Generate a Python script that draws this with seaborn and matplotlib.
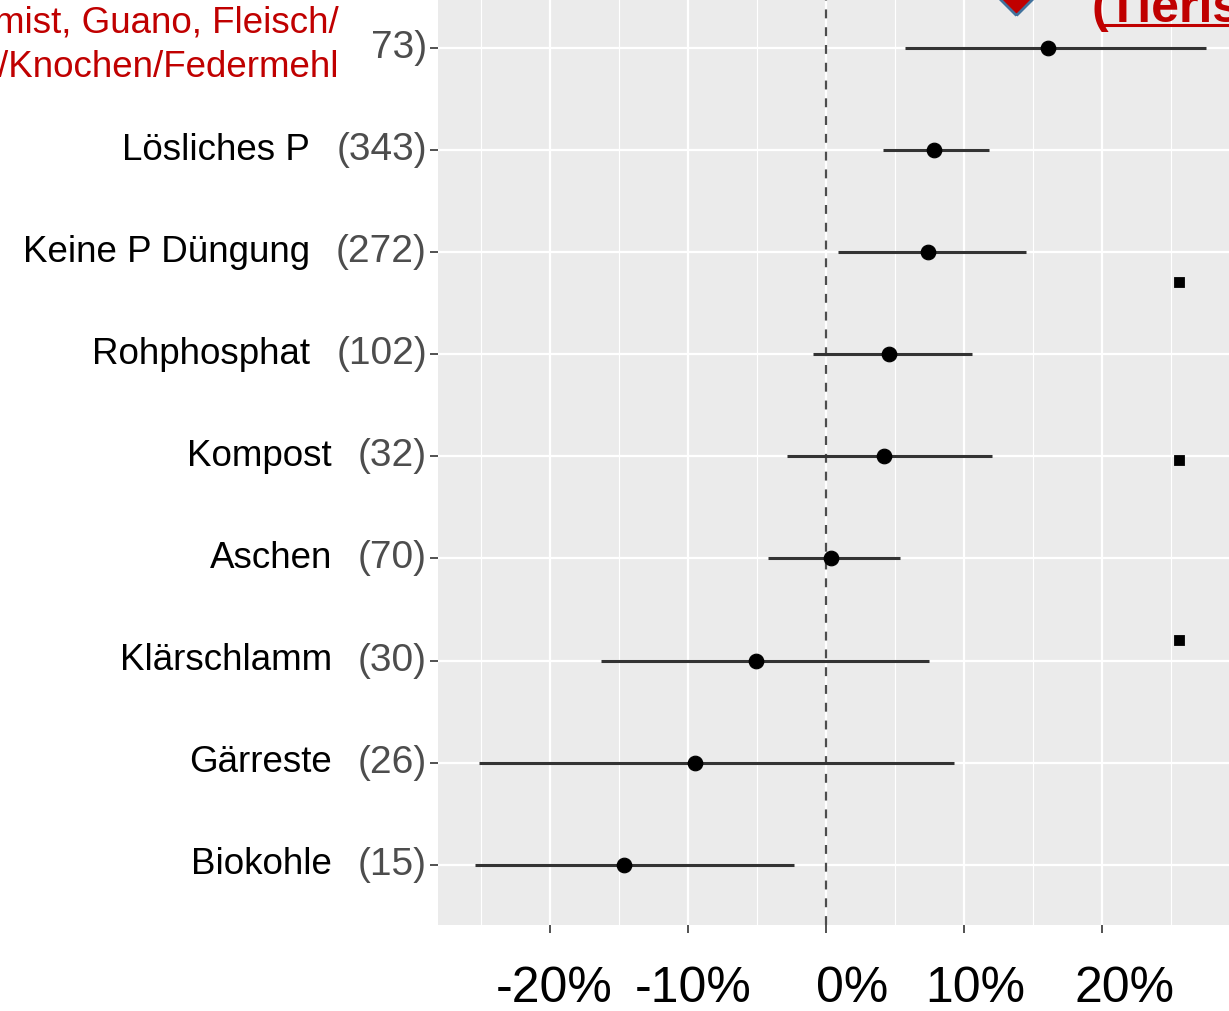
import numpy as np
import pandas as pd
import matplotlib.pyplot as plt
from matplotlib.lines import Line2D
from matplotlib.transforms import ScaledTranslation
import seaborn as sns

# rows from top to bottom (first row label is cut off in the reference)
names = ["", "Lösliches P", "Keine P Düngung", "Rohphosphat", "Kompost",
         "Aschen", "Klärschlamm", "Gärreste", "Biokohle"]
counts = ["73)", "(343)", "(272)", "(102)", "(32)", "(70)", "(30)", "(26)", "(15)"]
effect = [16.1, 7.8, 7.4, 4.6, 4.2, 0.4, -5.1, -9.5, -14.6]
ci_low = [5.7, 4.1, 0.9, -0.9, -2.8, -4.2, -16.3, -25.1, -25.4]
ci_high = [27.5, 11.8, 14.5, 10.6, 12.0, 5.4, 7.5, 9.3, -2.3]
top_label = "mist, Guano, Fleisch/\n/Knochen/Federmehl"
corner_label = "(Tierische"

xticks = [-20, -10, 0, 10, 20]
xtick_labels = ["-20%", "-10%", "0%", "10%", "20%"]
minor_ticks = [-25, -15, -5, 5, 15, 25]

# small black squares on the right side (x in %, y in row units)
sig_x = [25.6, 25.6, 25.6]
sig_y = [2.29, 4.04, 5.8]
# red arrow tip at the top
arrow_x = [13.8]
arrow_y = [-0.62]

df = pd.DataFrame({"row": np.arange(len(names)), "name": names, "n": counts,
                   "eff": effect, "lo": ci_low, "hi": ci_high})

sns.set_theme(style="darkgrid", rc={"axes.facecolor": "#EBEBEB",
                                    "grid.color": "white"})
plt.rcParams['font.family'] = ['Liberation Sans', 'DejaVu Sans']
red = "#C00000"

fig = plt.figure(figsize=(12.29, 10.11), dpi=100)
ax = fig.add_axes([438 / 1229, 0.0851, 1 - 438 / 1229, 0.928])

ax.hlines(df["row"], df["lo"], df["hi"], color="#333333", lw=2.2, zorder=3)
sns.scatterplot(data=df, x="eff", y="row", color="black", s=110,
                edgecolor="black", zorder=4, ax=ax)
sns.scatterplot(x=sig_x, y=sig_y, marker="s", color="black", s=55,
                edgecolor="black", zorder=4, ax=ax)
diamond = [(0, -1), (1, 0), (0, 1), (-1, 0), (0, -1)]
ax.scatter(arrow_x, arrow_y, marker=diamond, s=1870, color=red,
           edgecolor="#41719C", lw=2, zorder=5, clip_on=False)

ax.axvline(0, color="#4D4D4D", lw=1.6, ls=(0, (4, 4)), zorder=2)

ax.set_xlim(-28.1, 29.2)
ax.set_ylim(len(names) - 1 + 0.59, -0.6)

ax.set_xticks(xticks)
ax.set_xticklabels(xtick_labels, fontsize=36, color="black")
ax.set_xticks(minor_ticks, minor=True)
ax.set_yticks(df["row"])
ax.set_yticklabels([])
ax.grid(which="major", color="white", lw=1.6)
ax.grid(which="minor", axis="x", color="white", lw=0.8)
ax.tick_params(axis="x", which="major", length=5.8, width=1.2, color="#333333",
               pad=24, bottom=True)
ax.tick_params(axis="x", which="minor", length=0)
ax.tick_params(axis="y", length=5.8, width=1.2, color="#333333", left=True)
ax.set_xlabel("")
ax.set_ylabel("")
for s in ax.spines.values():
    s.set_visible(False)

# the big tick labels sit slightly off their ticks in the reference
for lbl, dx in zip(ax.get_xticklabels(), [4, 5, 26, 11, 23]):
    lbl.set_transform(lbl.get_transform() + ScaledTranslation(dx / 100, 0, fig.dpi_scale_trans))

ytr = ax.get_yaxis_transform()
for r, nm, cnt in zip(df["row"], df["name"], df["n"]):
    c = ax.annotate(cnt, xy=(0, r), xycoords=ytr, xytext=(-11, 0),
                    textcoords="offset pixels", ha="right", va="center",
                    fontsize=28, color="#4D4D4D")
    if nm:
        ax.annotate(nm, xy=(0, 0.5), xycoords=c, xytext=(-26, 0),
                    textcoords="offset pixels", ha="right", va="center",
                    fontsize=26.5, color="black")

ax.annotate(top_label, xy=(0, 0), xycoords=ytr, xytext=(-99, 3),
            textcoords="offset pixels", ha="right", va="center",
            multialignment="right", fontsize=26.5, color=red, linespacing=1.35)

fig.text(1092 / 1229, 1 - 22 / 1011, corner_label, fontsize=36,
         weight="bold", color=red, va="baseline", ha="left")
fig.add_artist(Line2D([1104 / 1229, 1.0], [1 - 25 / 1011] * 2,
                      transform=fig.transFigure, color=red, lw=2.2))

fig.savefig("out.png", dpi=100)
